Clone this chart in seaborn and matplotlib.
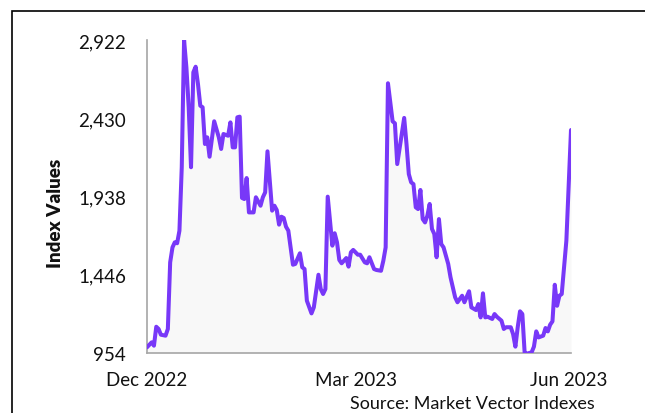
import numpy as np
import pandas as pd
import matplotlib
matplotlib.use("Agg")
import matplotlib.pyplot as plt
import matplotlib.dates as mdates
from matplotlib.patches import Rectangle
import seaborn as sns

start_date = "2022-12-01"
day_offsets = [0, 2, 3, 4, 5, 6, 8, 9, 10, 11, 12, 13, 14, 15, 16, 17, 18, 19, 20, 21,
               22, 23, 24, 25, 26, 27, 29, 31, 32, 33, 35, 36, 37, 38, 39, 40, 41, 42, 43, 44,
               46, 47, 49, 50, 51, 52, 54, 55, 56, 57, 58, 59, 60, 61, 62, 63, 64, 66, 67, 68,
               69, 71, 72, 74, 75, 76, 77, 78, 79, 80, 81, 82, 83, 84, 86, 87, 88, 89, 91, 92,
               94, 95, 96, 98, 99, 101, 102, 103, 104, 106, 107, 108, 111, 112, 113, 114, 115, 116, 117, 118,
               119, 120, 121, 122, 123, 124, 125, 126, 127, 128, 130, 131, 133, 134, 136, 137, 139, 140, 142, 143,
               144, 145, 146, 147, 149, 150, 151, 153, 154, 155, 157, 158, 159, 160, 161, 162, 163, 164, 166, 167,
               168, 169, 171, 172, 173, 174, 175, 176, 177, 178, 179, 181, 182, 183]
index_values = [990, 1021, 1000, 1119, 1105, 1069, 1063, 1105, 1524, 1618, 1650, 1644, 1723, 2122, 2922, 2750, 2499, 2122, 2719, 2754,
                2645, 2509, 2499, 2268, 2310, 2188, 2411, 2310, 2237, 2331, 2320, 2404, 2247, 2247, 2436, 2440, 1929, 1922, 2054, 1838,
                1838, 1933, 1880, 1933, 1964, 2222, 1849, 1880, 1853, 1761, 1811, 1803, 1748, 1723, 1618, 1509, 1514, 1581, 1493, 1482,
                1283, 1203, 1241, 1446, 1356, 1325, 1356, 1937, 1786, 1629, 1707, 1650, 1539, 1518, 1551, 1497, 1587, 1602, 1572, 1572,
                1524, 1518, 1556, 1482, 1476, 1471, 1534, 1618, 2650, 2411, 2398, 2142, 2432, 2268, 2079, 2027, 2016, 1870, 1859, 1979,
                1796, 1775, 1817, 1891, 1734, 1702, 1556, 1796, 1639, 1618, 1514, 1430, 1304, 1273, 1314, 1273, 1342, 1241, 1224, 1262,
                1178, 1329, 1178, 1182, 1168, 1199, 1182, 1157, 1105, 1116, 1116, 1073, 994, 1116, 1216, 1199, 954, 950, 958, 994,
                1090, 1052, 1063, 1111, 1090, 1132, 1153, 1383, 1251, 1314, 1325, 1660, 2016, 2356]

y_ticks = [954, 1446, 1938, 2430, 2922]
x_tick_dates = ["2022-12-01", "2023-03-01", "2023-06-01"]
x_tick_labels = ["Dec 2022", "Mar 2023", "Jun 2023"]
y_label = "Index Values"
source_text = "Source: Market Vector Indexes"

dates = pd.to_datetime(start_date) + pd.to_timedelta(day_offsets, unit="D")
df = pd.DataFrame({"date": dates, "value": index_values})

sns.set_style("white")
plt.rcParams["font.family"] = ["Lato", "DejaVu Sans"]

line_color = "#7838F8"
fig = plt.figure(figsize=(6.45, 4.14), dpi=100)
ax = fig.add_axes([147 / 645, 1 - 354 / 414, (571 - 147) / 645, (354 - 41) / 414])

ax.fill_between(df["date"], df["value"], y_ticks[0], color="#f8f8f8", zorder=1, linewidth=0)
sns.lineplot(data=df, x="date", y="value", ax=ax, color=line_color, linewidth=2.9, zorder=3)

ax.set_ylim(y_ticks[0], y_ticks[-1])
ax.set_xlim(df["date"].iloc[0], df["date"].iloc[-1])
ax.set_yticks(y_ticks)
ax.set_yticklabels([f"{v:,}" for v in y_ticks])
ax.set_xticks(pd.to_datetime(x_tick_dates))
ax.set_xticklabels(x_tick_labels)
ax.tick_params(axis="both", length=0, labelsize=13.5, colors="#111111")
ax.tick_params(axis="y", pad=15)
ax.tick_params(axis="x", pad=13)
ax.set_xlabel("")
ax.set_ylabel(y_label, fontsize=13.5, fontweight="heavy", color="#111111")
ax.yaxis.set_label_coords(-0.196, 0.45)

for side in ["top", "right"]:
    ax.spines[side].set_visible(False)
for side in ["left", "bottom"]:
    ax.spines[side].set_color("#a6a6a6")
    ax.spines[side].set_linewidth(1.2)
ax.grid(False)

fig.text(595 / 645, 1 - 396 / 414, source_text, ha="right", va="top", fontsize=13, color="#111111")

border = Rectangle((12 / 645, -0.1), 1.2, 1 - 12 / 414 + 0.1, transform=fig.transFigure,
                   fill=False, edgecolor="black", linewidth=1.2, clip_on=False)
fig.patches.append(border)

fig.savefig("out.png", dpi=100)
